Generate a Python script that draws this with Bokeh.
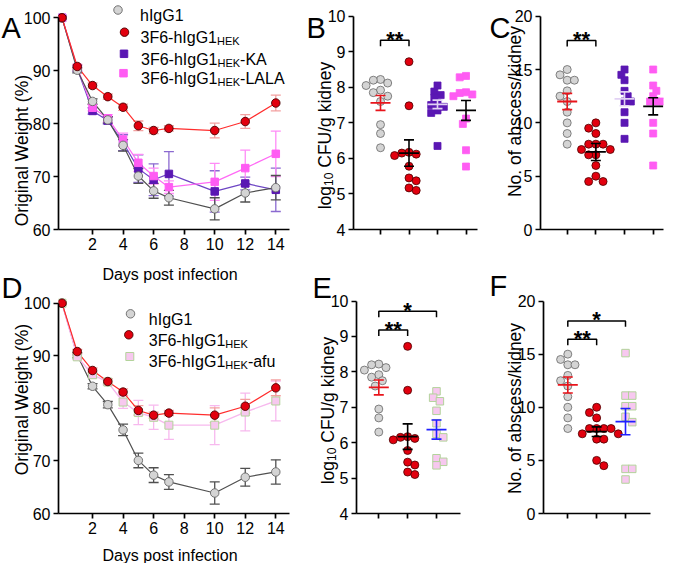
import math
from bokeh.plotting import figure
from bokeh.layouts import row, column
from bokeh.models import Label, FixedTicker, Range1d, GridBox
from bokeh.core.properties import value
from bokeh.embed import file_html
from bokeh.resources import INLINE

FONT = "Liberation Sans"

# ---------------- data ----------------
days = [0, 1, 2, 3, 4, 5, 6, 7, 10, 12, 14]
day_ticks = [2, 4, 6, 8, 10, 12, 14]

wt_hIgG1 = [100, 90.1, 84.2, 80.7, 75.9, 70.1, 67.3, 66.0, 63.9, 66.9, 67.9]
wt_hIgG1_sem = [0.3, 0.5, 0.5, 0.6, 1.1, 1.4, 1.4, 1.4, 2.1, 1.7, 2.3]
wt_hek = [100, 90.8, 87.2, 85.1, 83.1, 79.6, 78.7, 79.1, 78.7, 80.4, 83.9]
wt_hek_sem = [0.3, 0.4, 0.5, 0.5, 0.6, 0.9, 0.6, 0.5, 1.4, 1.3, 1.5]
wt_ka = [100, 90.4, 82.4, 80.6, 76.4, 71.5, 69.4, 70.5, 67.2, 68.7, 67.5]
wt_ka_sem = [0.3, 0.5, 0.6, 0.7, 1.5, 2.6, 3.0, 4.2, 3.9, 1.2, 4.1]
wt_lala = [100, 90.6, 83.0, 81.0, 77.0, 72.6, 70.1, 68.0, 69.0, 71.6, 74.3]
wt_lala_sem = [0.3, 0.5, 0.6, 0.7, 1.2, 1.6, 1.5, 1.2, 3.5, 3.4, 4.3]
wt_afu = [100, 89.8, 86.4, 85.0, 81.2, 79.2, 78.3, 76.8, 76.8, 79.3, 81.4]
wt_afu_sem = [0.3, 0.5, 0.6, 0.6, 1.2, 2.3, 2.3, 2.7, 3.7, 3.6, 3.8]

cfu_hIgG1 = [8.22, 8.2, 8.12, 8.05, 7.92, 7.85, 7.75, 7.6, 6.95, 6.7, 6.3]
cfu_hek = [8.72, 7.48, 6.17, 6.15, 6.12, 6.08, 5.78, 5.45, 5.37, 5.17, 5.1]
cfu_ka = [8.05, 7.88, 7.78, 7.7, 7.55, 7.5, 7.45, 7.35, 7.28, 6.35]
cfu_lala = [8.32, 8.28, 7.86, 7.84, 7.8, 7.75, 7.12, 6.97, 6.23, 5.77]
cfu_afu = [7.45, 7.27, 7.17, 6.9, 6.55, 6.25, 6.15, 5.56, 5.46, 5.36]
cfu_mean_B = [7.56, 6.15, 7.52, 7.35]
cfu_sem_B = [0.21, 0.37, 0.12, 0.28]
cfu_mean_E = [7.56, 6.17, 6.37]
cfu_sem_E = [0.21, 0.36, 0.27]

abs_hIgG1 = [15, 14.5, 14, 14, 13, 12.5, 12, 11, 10, 9, 8]
abs_hek_C = [10, 9.5, 9, 8, 8, 8, 7.5, 7.5, 7, 7, 6, 5, 4.5, 4.5]
abs_ka = [15, 14.5, 14, 13, 12.5, 12, 12, 11, 10, 8.5]
abs_lala = [15, 13.5, 13, 12.5, 12, 12, 12, 10, 9, 6]
abs_hek_F = [10, 9.5, 9, 8, 8, 8, 8, 7.5, 7.5, 7, 7, 5, 4.5]
abs_afu = [15.1, 11.1, 11.1, 10.1, 10.1, 9.1, 8.6, 4.2, 4.2, 3.2]
abs_mean_C = [12.0, 7.27, 12.25, 11.55]
abs_sem_C = [0.76, 0.8, 0.65, 0.8]
abs_mean_F = [12.1, 7.7, 8.65]
abs_sem_F = [0.75, 0.45, 1.23]

# significance brackets: (group a, group b, level, label)
sig_B = [(1, 2, 9.32, "**")]
sig_C = [(1, 2, 17.73, "**")]
sig_E = [(1, 2, 9.18, "**"), (1, 3, 9.71, "*")]
sig_F = [(1, 2, 16.4, "**"), (1, 3, 18.13, "*")]

# ---------------- styles ----------------
GREY_FILL, GREY_LINE = "#d4d4d4", "#666666"
RED, RED_LINE = "#e2000e", "#4a0000"
PURPLE = "#5a17b3"
PINK = "#ff5cf3"
AFU_FILL, AFU_LINE = "#f7c8ef", "#b3d39b"
MEAN_RED, MEAN_LAV, MEAN_BLUE = "#e8141b", "#e2d2f4", "#2020ff"

ADV = {'3': 556, 'F': 611, '6': 556, '-': 333, 'h': 556, 'I': 278, 'g': 556, 'G': 778,
       '1': 556, 'H': 722, 'E': 667, 'K': 667, 'A': 667, 'L': 556, 'a': 556, 'f': 278,
       'u': 556, ' ': 278, 'l': 222, 'o': 556, '0': 556, 'C': 722, 'U': 722, '/': 278,
       'k': 500, 'i': 222, 'd': 556, 'n': 556, 'e': 556, 'y': 500, 'N': 722, '.': 278,
       'b': 556, 's': 500, 'c': 500, 'O': 778, 'r': 333, 'W': 944, 't': 278, '(': 333,
       '%': 889, ')': 333, 'D': 722, 'p': 556}


def tw(s, size):
    return sum(ADV.get(c, 556) for c in s) * size / 1000.0


class Geo:
    """Maps picture pixels to a panel's data coordinates."""
    def __init__(self, canvas, frame, xmap, ymap):
        self.cx, self.cy, self.cw, self.ch = canvas
        self.fl, self.ft, self.fr, self.fb = frame
        (xv1, xp1), (xv2, xp2) = xmap
        self.kx = (xp2 - xp1) / (xv2 - xv1)
        self.xv1, self.xp1 = xv1, xp1
        (yv1, yp1), (yv2, yp2) = ymap
        self.ky = (yp1 - yp2) / (yv2 - yv1)
        self.yv1, self.yp1 = yv1, yp1

    def X(self, px):
        return self.xv1 + (px - self.xp1) / self.kx

    def Y(self, py):
        return self.yv1 + (self.yp1 - py) / self.ky


W, H = 676, 563
gA = Geo((0, 0, 300, 282), (58, 0, 289, 229), ((0, 61.5), (14, 275.3)), ((60, 229), (100, 17.3)))
gB = Geo((300, 0, 188, 282), (353, 0, 477, 229), ((1, 380), (4, 465.5)), ((4, 229), (10, 15.7)))
gC = Geo((488, 0, 188, 282), (540, 0, 663, 229), ((1, 566.7), (4, 652.7)), ((0, 229), (20, 15.7)))
gD = Geo((0, 282, 300, 281), (58, 282, 289, 513), ((0, 61.5), (14, 275.3)), ((60, 513), (100, 302.7)))
gE = Geo((300, 282, 188, 281), (356, 282, 460, 515), ((1, 378.3), (3, 436)), ((4, 515), (10, 300.7)))
gF = Geo((488, 282, 188, 281), (543, 282, 650, 515), ((1, 567.3), (3, 625)), ((0, 515), (20, 300.7)))
gO = Geo((0, 0, W, H), (0, 0, W, H), ((0, 0), (W, W)), ((0, 0), (H, H)))


def make_fig(g, xticks, yticks, ybounds, xlabels=True):
    p = figure(width=g.cw, height=g.ch,
               x_range=Range1d(g.X(g.fl), g.X(g.fr)),
               y_range=Range1d(g.Y(g.fb), g.Y(g.ft)),
               min_border_left=g.fl - g.cx, min_border_right=g.cx + g.cw - g.fr,
               min_border_top=g.ft - g.cy, min_border_bottom=g.cy + g.ch - g.fb,
               output_backend="svg", toolbar_location=None)
    p.grid.visible = False
    p.outline_line_color = None
    for ax in (p.xaxis[0], p.yaxis[0]):
        ax.axis_line_width = 1.7
        ax.axis_line_color = "black"
        ax.major_tick_line_width = 1.7
        ax.major_tick_line_color = "black"
        ax.major_tick_out = 5
        ax.major_tick_in = 0
        ax.minor_tick_line_color = None
        ax.major_label_text_font = FONT
        ax.major_label_text_font_size = "16px"
        ax.major_label_standoff = 3
        ax.major_label_text_color = "black"
    p.xaxis.ticker = FixedTicker(ticks=xticks)
    p.yaxis.ticker = FixedTicker(ticks=yticks)
    p.yaxis.bounds = ybounds
    if not xlabels:
        p.xaxis.major_label_overrides = {t: "" for t in xticks}
    return p


def put(p, g, px, py, text, size, align="left", baseline="alphabetic", angle=0.0):
    p.add_layout(Label(x=g.X(px), y=g.Y(py), text=text, angle=angle,
                       text_font=FONT, text_font_size=f"{size}px", text_color="black",
                       text_align=align, text_baseline=baseline))


def hlabel(p, g, x, base, pieces, center=False):
    total = sum(tw(t, s) for t, s, _ in pieces)
    if center:
        x -= total / 2
    for t, s, sh in pieces:
        lead = len(t) - len(t.lstrip(" "))
        x += lead * tw(" ", s)
        put(p, g, x, base + sh, t.lstrip(" "), s)
        x += tw(t.lstrip(" "), s)


def vlabel(p, g, xb, cy, pieces):
    total = sum(tw(t, s) for t, s, _ in pieces)
    y = cy + total / 2
    for t, s, sh in pieces:
        lead = len(t) - len(t.lstrip(" "))
        y -= lead * tw(" ", s)
        put(p, g, xb + sh, y, t.lstrip(" "), s, angle=math.pi / 2)
        y -= tw(t.lstrip(" "), s)


def weight_err(p, g, y, sem, color):
    cap = 5 / g.kx
    lo = [a - b for a, b in zip(y, sem)]
    hi = [a + b for a, b in zip(y, sem)]
    p.segment(days, lo, days, hi, line_color=color, line_width=1.3)
    p.segment([d - cap for d in days], hi, [d + cap for d in days], hi, line_color=color, line_width=1.3)
    p.segment([d - cap for d in days], lo, [d + cap for d in days], lo, line_color=color, line_width=1.3)


def swarm(vals, kx, ky, d):
    placed, offs = [], []
    step = d * 0.45
    for i, v in enumerate(vals):
        yp = v * ky
        k, ok = 0, None
        while ok is None:
            if k == 0:
                cands = [0.0]
            else:
                cands = [k * step, -k * step] if i % 2 == 0 else [-k * step, k * step]
            for o in cands:
                if all((o - a) ** 2 + (yp - b) ** 2 >= (0.88 * d) ** 2 for a, b in placed):
                    ok = o
                    break
            k += 1
        placed.append((ok, yp))
        offs.append(ok / kx)
    return offs


def dots(p, g, xc, vals, marker, fill, line, size, lw=0.8):
    offs = swarm(vals, g.kx, g.ky, size)
    p.scatter([xc + o for o in offs], vals, marker=marker, size=size,
              fill_color=fill, line_color=line, line_width=lw)


def mean_bar(p, g, xc, m, s, color):
    hw, cw = 10 / g.kx, 5 / g.kx
    p.segment([xc - hw], [m], [xc + hw], [m], line_color=color, line_width=1.8)
    p.segment([xc], [m - s], [xc], [m + s], line_color=color, line_width=1.6)
    p.segment([xc - cw, xc - cw], [m - s, m + s], [xc + cw, xc + cw], [m - s, m + s],
              line_color=color, line_width=1.6)


def brackets(p, g, sigs):
    leg = 6 / g.ky
    for a, b, lev, lab in sigs:
        p.line([a, a, b, b], [lev - leg, lev, lev, lev - leg], line_color="black", line_width=1.5)
        p.text([(a + b) / 2], [lev], text=[lab], text_font=value(FONT), text_font_size="22px",
               text_font_style="bold", text_align="center", text_baseline="alphabetic",
               y_offset=-1, text_color="black")


HEK = [("3F6-hIgG1", 16, 0), ("HEK", 11, 3.5)]
YT = 17.5
LOGCFU = [("log", YT, 0), ("10", 12, 3.8), (" CFU/g kidney", YT, 0)]

# ---------------- Panel A ----------------
pA = make_fig(gA, day_ticks, [60, 70, 80, 90, 100], (60, 100))
weight_err(pA, gA, wt_ka, wt_ka_sem, "#8b6ad0")
weight_err(pA, gA, wt_lala, wt_lala_sem, "#ff8cf7")
weight_err(pA, gA, wt_hIgG1, wt_hIgG1_sem, "#505050")
weight_err(pA, gA, wt_hek, wt_hek_sem, "#f3a0a0")
pA.line(days, wt_ka, line_color="#6d45c4", line_width=1.2)
pA.line(days, wt_lala, line_color="#ff6af5", line_width=1.2)
pA.line(days, wt_hIgG1, line_color="#505050", line_width=1.2)
pA.line(days, wt_hek, line_color="#ff2d2d", line_width=1.2)
pA.scatter(days, wt_ka, marker="square", size=7.5, fill_color=PURPLE, line_color=PURPLE)
pA.scatter(days, wt_lala, marker="square", size=7.5, fill_color=PINK, line_color=PINK)
pA.scatter(days, wt_hIgG1, marker="circle", size=8.5, fill_color=GREY_FILL, line_color=GREY_LINE, line_width=0.9)
pA.scatter(days, wt_hek, marker="circle", size=8.5, fill_color=RED, line_color=RED_LINE, line_width=0.9)
# legend (swatches + texts)
pA.scatter([gA.X(117.5)], [gA.Y(9.5)], marker="circle", size=8.5, fill_color=GREY_FILL, line_color=GREY_LINE, line_width=0.9)
pA.scatter([gA.X(124)], [gA.Y(31.7)], marker="circle", size=8.5, fill_color=RED, line_color=RED_LINE, line_width=0.9)
pA.scatter([gA.X(123.5)], [gA.Y(53.3)], marker="square", size=7.5, fill_color=PURPLE, line_color=PURPLE)
pA.scatter([gA.X(123)], [gA.Y(72.7)], marker="square", size=7.5, fill_color=PINK, line_color=PINK)
hlabel(pA, gA, 139.5, 9.5 + 5.7, [("hIgG1", 16, 0)])
hlabel(pA, gA, 140, 31 + 5.7, HEK)
hlabel(pA, gA, 140.5, 53.5 + 5.7, HEK + [("-KA", 16, 0)])
hlabel(pA, gA, 140.5, 72.5 + 5.7, HEK + [("-LALA", 16, 0)])

# ---------------- Panel B ----------------
pB = make_fig(gB, [1, 2, 3, 4], [4, 5, 6, 7, 8, 9, 10], (4, 10), xlabels=False)
dots(pB, gB, 1, cfu_hIgG1, "circle", GREY_FILL, GREY_LINE, 8)
dots(pB, gB, 2, cfu_hek, "circle", RED, RED_LINE, 8)
dots(pB, gB, 3, cfu_ka, "square", PURPLE, PURPLE, 7)
dots(pB, gB, 4, cfu_lala, "square", PINK, PINK, 7)
for i, col in enumerate([MEAN_RED, "black", MEAN_LAV, "black"]):
    mean_bar(pB, gB, i + 1, cfu_mean_B[i], cfu_sem_B[i], col)
brackets(pB, gB, sig_B)

# ---------------- Panel C ----------------
pC = make_fig(gC, [1, 2, 3, 4], [0, 5, 10, 15, 20], (0, 20), xlabels=False)
dots(pC, gC, 1, abs_hIgG1, "circle", GREY_FILL, GREY_LINE, 8)
dots(pC, gC, 2, abs_hek_C, "circle", RED, RED_LINE, 8)
dots(pC, gC, 3, abs_ka, "square", PURPLE, PURPLE, 7)
dots(pC, gC, 4, abs_lala, "square", PINK, PINK, 7)
for i, col in enumerate([MEAN_RED, "black", MEAN_LAV, "black"]):
    mean_bar(pC, gC, i + 1, abs_mean_C[i], abs_sem_C[i], col)
brackets(pC, gC, sig_C)

# ---------------- Panel D ----------------
pD = make_fig(gD, day_ticks, [60, 70, 80, 90, 100], (60, 100))
weight_err(pD, gD, wt_hIgG1, wt_hIgG1_sem, "#505050")
weight_err(pD, gD, wt_afu, wt_afu_sem, "#f7b9ee")
weight_err(pD, gD, wt_hek, wt_hek_sem, "#f3a0a0")
pD.line(days, wt_hIgG1, line_color="#505050", line_width=1.2)
pD.line(days, wt_afu, line_color="#f7b9ee", line_width=1.4)
pD.line(days, wt_hek, line_color="#ff2d2d", line_width=1.2)
pD.scatter(days, wt_hIgG1, marker="circle", size=8.5, fill_color=GREY_FILL, line_color=GREY_LINE, line_width=0.9)
pD.scatter(days, wt_afu, marker="square", size=8, fill_color=AFU_FILL, line_color=AFU_LINE, line_width=1)
pD.scatter(days, wt_hek, marker="circle", size=8.5, fill_color=RED, line_color=RED_LINE, line_width=0.9)
pD.scatter([gD.X(130)], [gD.Y(313.3)], marker="circle", size=8.5, fill_color=GREY_FILL, line_color=GREY_LINE, line_width=0.9)
pD.scatter([gD.X(128.3)], [gD.Y(334.3)], marker="circle", size=8.5, fill_color=RED, line_color=RED_LINE, line_width=0.9)
pD.scatter([gD.X(129.3)], [gD.Y(356)], marker="square", size=8, fill_color=AFU_FILL, line_color=AFU_LINE, line_width=1)
hlabel(pD, gD, 148.3, 313.3 + 5.7, [("hIgG1", 16, 0)])
hlabel(pD, gD, 148.3, 334 + 5.7, HEK)
hlabel(pD, gD, 148.3, 355.5 + 5.7, HEK + [("-afu", 16, 0)])

# ---------------- Panel E ----------------
pE = make_fig(gE, [1, 2, 3], [4, 5, 6, 7, 8, 9, 10], (4, 10), xlabels=False)
dots(pE, gE, 1, cfu_hIgG1, "circle", GREY_FILL, GREY_LINE, 8)
dots(pE, gE, 2, cfu_hek, "circle", RED, RED_LINE, 8)
dots(pE, gE, 3, cfu_afu, "square", AFU_FILL, AFU_LINE, 7.5, lw=1)
for i, col in enumerate([MEAN_RED, "black", MEAN_BLUE]):
    mean_bar(pE, gE, i + 1, cfu_mean_E[i], cfu_sem_E[i], col)
brackets(pE, gE, sig_E)

# ---------------- Panel F ----------------
pF = make_fig(gF, [1, 2, 3], [0, 5, 10, 15, 20], (0, 20), xlabels=False)
dots(pF, gF, 1, abs_hIgG1, "circle", GREY_FILL, GREY_LINE, 8)
dots(pF, gF, 2, abs_hek_F, "circle", RED, RED_LINE, 8)
dots(pF, gF, 3, abs_afu, "square", AFU_FILL, AFU_LINE, 7.5, lw=1)
for i, col in enumerate([MEAN_RED, "black", MEAN_BLUE]):
    mean_bar(pF, gF, i + 1, abs_mean_F[i], abs_sem_F[i], col)
brackets(pF, gF, sig_F)

# ---------------- overlay: axis titles and panel letters ----------------
ov = figure(width=W, height=H, x_range=Range1d(0, W), y_range=Range1d(H, 0),
            x_axis_type=None, y_axis_type=None, min_border=0,
            output_backend="svg", toolbar_location=None)
ov.outline_line_color = None
ov.background_fill_color = None
ov.border_fill_color = None
ov.grid.visible = False

vlabel(ov, gO, 21, 150, [("Original Weight (%)", YT, 0)])
vlabel(ov, gO, 324.5, 135, LOGCFU)
vlabel(ov, gO, 514, 111, [("No. of abscess/kidney", YT, 0)])
vlabel(ov, gO, 21, 399, [("Original Weight (%)", YT, 0)])
vlabel(ov, gO, 327, 410, LOGCFU)
vlabel(ov, gO, 514, 408, [("No. of abscess/kidney", YT, 0)])
hlabel(ov, gO, 169.5, 274, [("Days post infection", 16, 0)], center=True)
hlabel(ov, gO, 169.5, 555, [("Days post infection", 16, 0)], center=True)
for letter, lx, ly in [("A", 1, 27), ("B", 306, 27), ("C", 489, 27),
                       ("D", 1, 287), ("E", 312, 287), ("F", 489, 285)]:
    put(ov, gO, lx, ly, letter, 29)

panels = column(row(pA, pB, pC), row(pD, pE, pF))
layout = GridBox(children=[(panels, 0, 0), (ov, 0, 0)])
open("out.html", "w").write(file_html(layout, INLINE))
